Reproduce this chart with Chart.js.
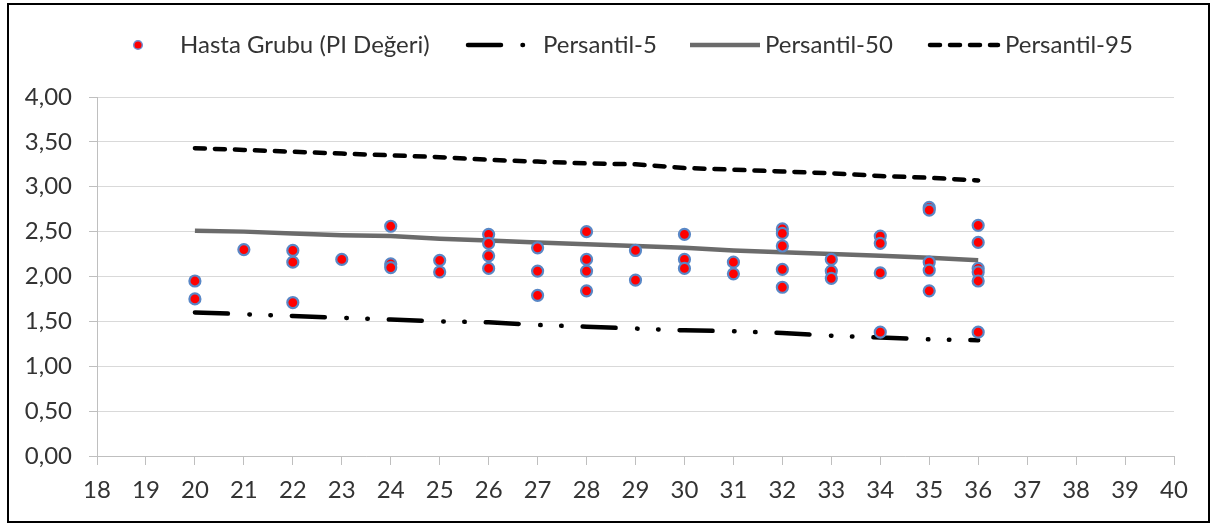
<!DOCTYPE html>
<html>
<head>
<meta charset="utf-8">
<script src="https://cdn.jsdelivr.net/npm/chart.js@4.4.1/dist/chart.umd.min.js"></script>
<style>
  html, body { margin: 0; padding: 0; background: #ffffff; }
  #wrap { width: 1211px; height: 524px; position: relative; }
</style>
</head>
<body>
<div id="wrap"><canvas id="c" width="1211" height="524"></canvas></div>
<script>
// ---- Data ----
const patientAge = [20,20, 21, 22,22,22, 23, 24,24,24, 25,25, 26,26,26,26, 27,27,27, 28,28,28,28, 29,29, 30,30,30, 31,31, 32,32,32,32,32, 33,33,33, 34,34,34,34, 35,35,35,35,35, 36,36,36,36,36,36];
const patientPI  = [1.95,1.75, 2.30, 2.29,2.16,1.71, 2.19, 2.56,2.14,2.10, 2.18,2.05, 2.47,2.37,2.23,2.09, 2.32,2.06,1.79, 2.50,2.19,2.06,1.84, 2.29,1.96, 2.47,2.19,2.09, 2.16,2.03, 2.53,2.48,2.34,2.08,1.88, 2.19,2.06,1.98, 2.45,2.37,2.04,1.38, 2.77,2.74,2.16,2.07,1.84, 2.57,2.38,2.09,2.05,1.95,1.38];

const percentileAge = [20,21,22,23,24,25,26,27,28,29,30,31,32,33,34,35,36];
const p5  = [1.60,1.58,1.56,1.54,1.52,1.50,1.49,1.46,1.44,1.42,1.40,1.39,1.37,1.34,1.32,1.30,1.29];
const p50 = [2.51,2.50,2.48,2.46,2.45,2.42,2.40,2.38,2.36,2.34,2.32,2.29,2.27,2.25,2.23,2.21,2.18];
const p95 = [3.43,3.41,3.39,3.37,3.35,3.33,3.30,3.28,3.26,3.25,3.21,3.19,3.17,3.15,3.12,3.10,3.07];

const seriesNames = ['Hasta Grubu (PI Değeri)', 'Persantil-5', 'Persantil-50', 'Persantil-95'];
const yTickLabels = ['0,00','0,50','1,00','1,50','2,00','2,50','3,00','3,50','4,00'];

// ---- Styles ----
const FONT = 'Lato';
const TEXT = '#333333';
const P5_DASH = [33, 21.5, 0.5, 20.5, 0.5, 21];
const P95_DASH = [10, 10];

function pairs(xs, ys) { return xs.map((x, i) => ({ x: x, y: ys[i] })); }

const framePlugin = {
  id: 'frameAndLegend',
  beforeDraw(chart) {
    const ctx = chart.ctx;
    ctx.save();
    ctx.fillStyle = '#ffffff';
    ctx.fillRect(0, 0, chart.width, chart.height);
    ctx.restore();
  },
  afterDraw(chart) {
    const ctx = chart.ctx;
    ctx.save();
    // outer frame
    ctx.strokeStyle = '#000000';
    ctx.lineWidth = 2;
    ctx.strokeRect(8, 4, 1201, 518);

    const cy = 45;
    // item 1: marker
    ctx.beginPath();
    ctx.arc(138, cy, 4.3, 0, Math.PI * 2);
    ctx.fillStyle = '#ff0000';
    ctx.fill();
    ctx.lineWidth = 1.5;
    ctx.strokeStyle = '#6f8fd0';
    ctx.stroke();

    // item 2: P5 sample
    ctx.beginPath();
    ctx.setLineDash(P5_DASH);
    ctx.lineCap = 'round';
    ctx.lineWidth = 4.5;
    ctx.strokeStyle = '#000000';
    ctx.moveTo(468, cy);
    ctx.lineTo(525, cy);
    ctx.stroke();

    // item 3: P50 sample
    ctx.beginPath();
    ctx.setLineDash([]);
    ctx.lineCap = 'butt';
    ctx.lineWidth = 4.5;
    ctx.strokeStyle = '#6b6b6b';
    ctx.moveTo(690, cy);
    ctx.lineTo(760, cy);
    ctx.stroke();

    // item 4: P95 sample
    ctx.beginPath();
    ctx.setLineDash(P95_DASH);
    ctx.lineCap = 'round';
    ctx.lineWidth = 4.5;
    ctx.strokeStyle = '#000000';
    ctx.moveTo(930, cy);
    ctx.lineTo(998, cy);
    ctx.stroke();
    ctx.setLineDash([]);

    // texts
    ctx.fillStyle = TEXT;
    ctx.font = '24px ' + FONT;
    ctx.textBaseline = 'middle';
    ctx.textAlign = 'left';
    ctx.fillText(seriesNames[0], 180, cy);
    ctx.fillText(seriesNames[1], 543, cy);
    ctx.fillText(seriesNames[2], 765, cy);
    ctx.fillText(seriesNames[3], 1005, cy);
    ctx.restore();
  }
};

new Chart(document.getElementById('c'), {
  type: 'scatter',
  data: {
    datasets: [
      {
        label: seriesNames[0],
        data: pairs(patientAge, patientPI),
        backgroundColor: '#ff0000',
        borderColor: '#5987c6',
        borderWidth: 2.2,
        pointRadius: 5.5,
        pointHoverRadius: 5.5,
        showLine: false
      },
      {
        label: seriesNames[1],
        data: pairs(percentileAge, p5),
        showLine: true,
        borderColor: '#000000',
        borderWidth: 4.5,
        borderDash: P5_DASH,
        borderCapStyle: 'round',
        pointRadius: 0,
        tension: 0
      },
      {
        label: seriesNames[2],
        data: pairs(percentileAge, p50),
        showLine: true,
        borderColor: '#6b6b6b',
        borderWidth: 4.5,
        pointRadius: 0,
        tension: 0
      },
      {
        label: seriesNames[3],
        data: pairs(percentileAge, p95),
        showLine: true,
        borderColor: '#000000',
        borderWidth: 4.5,
        borderDash: P95_DASH,
        borderCapStyle: 'round',
        pointRadius: 0,
        tension: 0
      }
    ]
  },
  options: {
    responsive: false,
    animation: false,
    layout: { padding: { left: 0, right: 37, top: 97, bottom: 0 } },
    plugins: {
      legend: { display: false },
      tooltip: { enabled: false }
    },
    scales: {
      x: {
        type: 'linear',
        position: 'bottom',
        min: 18,
        max: 40,
        ticks: {
          stepSize: 1,
          color: TEXT,
          font: { family: FONT, size: 24 },
          padding: 11,
          maxRotation: 0,
          autoSkip: false
        },
        grid: {
          drawOnChartArea: false,
          drawTicks: true,
          tickLength: 9,
          tickColor: '#bfbfbf'
        },
        border: { display: true, color: '#bfbfbf', width: 1 },
        afterFit(scale) { scale.height = 68; }
      },
      y: {
        type: 'linear',
        position: 'left',
        min: 0,
        max: 4,
        ticks: {
          stepSize: 0.5,
          color: TEXT,
          font: { family: FONT, size: 24 },
          padding: 17,
          callback: (v, i) => yTickLabels[i]
        },
        grid: {
          color: '#d9d9d9',
          tickColor: '#bfbfbf',
          tickLength: 8
        },
        border: { display: true, color: '#bfbfbf', width: 1 },
        afterFit(scale) { scale.width = 97; }
      }
    }
  },
  plugins: [framePlugin]
});
</script>
</body>
</html>
